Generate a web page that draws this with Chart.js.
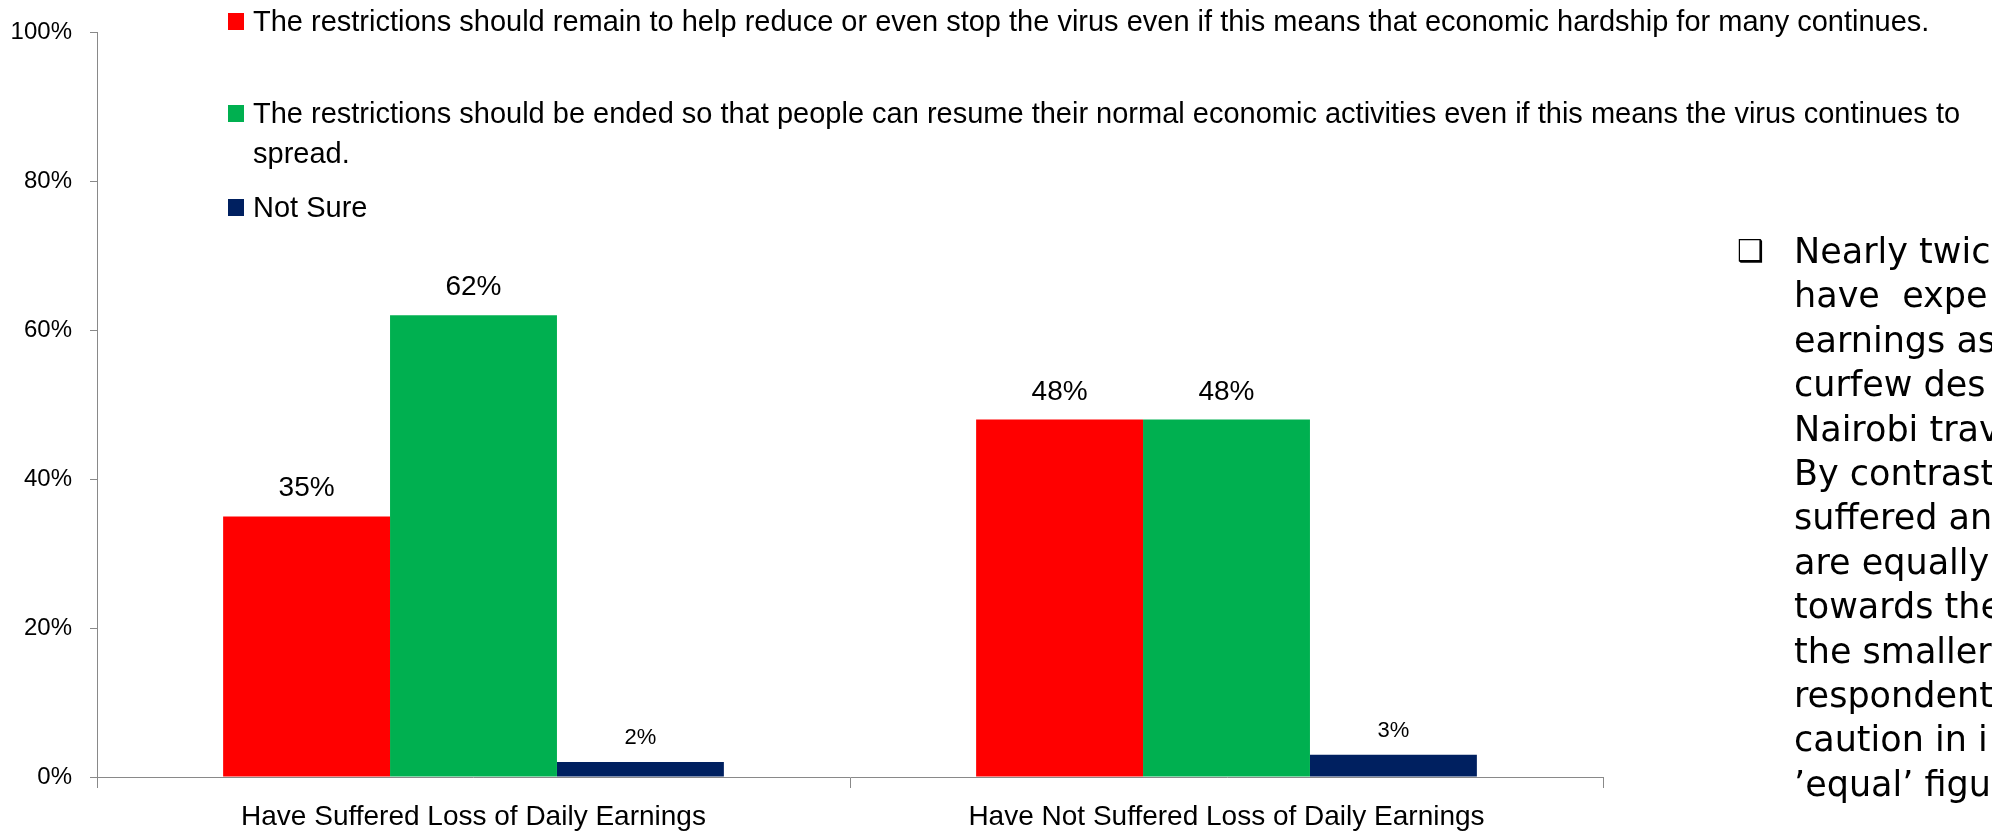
<!DOCTYPE html>
<html>
<head>
<meta charset="utf-8">
<script src="https://cdn.jsdelivr.net/npm/chart.js@4/dist/chart.umd.min.js"></script>
<style>
  body { margin: 0; background: #fff; overflow: hidden; }
  .wrap { position: relative; width: 1992px; height: 834px; overflow: hidden; }
  .chart-box { position: absolute; left: 0; top: 0; width: 1992px; height: 834px; }
  .legend { position: absolute; left: 228px; top: 0; font-family: 'Liberation Sans', Arial, sans-serif; font-size: 29px; line-height: 40px; color: #000; }
  .legend .row { position: absolute; left: 0; white-space: normal; }
  .legend .sw { position: absolute; left: 0; top: 12px; width: 16px; height: 17px; }
  .legend .txt { margin-left: 25px; width: 1740px; }
  .note { position: absolute; left: 1737px; top: 229px; font-family: 'DejaVu Sans', sans-serif; font-size: 35px; line-height: 44.4px; color: #000; }
  .note .bullet { position: absolute; left: 0; top: 0; font-size: 30px; }
  .note .line { margin-left: 57px; white-space: pre; }
</style>
</head>
<body>
<div class="wrap">
  <div class="chart-box"><canvas id="chart"></canvas></div>
  <div class="legend" id="legend"></div>
  <div class="note" id="note"></div>
</div>
<script>
const categories = ['Have Suffered Loss of Daily Earnings', 'Have Not Suffered Loss of Daily Earnings'];
const seriesNames = [
    'The restrictions should remain to help reduce or even stop the virus even if this means that economic hardship for many continues.',
    'The restrictions should be ended so that people can resume their normal economic activities even if this means the virus continues to spread.',
    'Not Sure'
];
const remainValues = [35, 48];
const endedValues = [62, 48];
const notSureValues = [2, 3];
const seriesColors = ['#FF0000', '#00B050', '#002060'];

// visible part of the side note (it runs off the slide edge)
const noteLines = [
    'Nearly twic', 'have  expe', 'earnings as', 'curfew des', 'Nairobi trav',
    'By contrast', 'suffered an', 'are equally', 'towards the', 'the smaller',
    'respondent', 'caution in i', '\u2019equal\u2019 figu'
];

const chartFont = "'Liberation Sans', Arial, sans-serif";

// draw the % above each bar
const valueLabels = {
    id: 'valueLabels',
    afterDatasetsDraw(chart) {
        const c = chart.ctx;
        c.save();
        c.fillStyle = '#000';
        c.textAlign = 'center';
        c.textBaseline = 'alphabetic';
        chart.data.datasets.forEach((ds, i) => {
            chart.getDatasetMeta(i).data.forEach((bar, j) => {
                const v = ds.data[j];
                const small = v < 10;
                c.font = (small ? 22 : 28) + 'px ' + chartFont;
                c.fillText(v + '%', bar.x, bar.y - (small ? 18 : 20));
            });
        });
        c.restore();
    }
};

const ctx = document.getElementById('chart');

new Chart(ctx, {
    type: 'bar',
    data: {
        labels: categories,
        datasets: [
            { label: seriesNames[0], data: remainValues, backgroundColor: seriesColors[0] },
            { label: seriesNames[1], data: endedValues, backgroundColor: seriesColors[1] },
            { label: seriesNames[2], data: notSureValues, backgroundColor: seriesColors[2] }
        ]
    },
    options: {
        responsive: true,
        maintainAspectRatio: false,
        animation: false,
        categoryPercentage: 0.665,
        barPercentage: 1.0,
        layout: { padding: { top: 31, right: 389, bottom: 0, left: 0 } },
        scales: {
            x: {
                grid: { drawOnChartArea: false, tickLength: 11, color: '#898989' },
                border: { color: '#898989' },
                ticks: { color: '#000', font: { family: chartFont, size: 28 }, padding: 12, maxRotation: 0 },
                afterFit(scale) { scale.height = 57; }
            },
            y: {
                min: 0,
                max: 100,
                grid: { drawOnChartArea: false, tickLength: 7, color: '#898989' },
                border: { color: '#898989' },
                ticks: {
                    stepSize: 20,
                    color: '#000',
                    padding: 18,
                    font: { family: chartFont, size: 24 },
                    callback: v => v + '%'
                },
                afterFit(scale) { scale.width = 97; }
            }
        },
        plugins: {
            legend: { display: false },
            tooltip: { enabled: false }
        }
    },
    plugins: [valueLabels]
});

// legend, laid out like the slide
const legendTops = [1, 93, 187];
const legend = document.getElementById('legend');
seriesNames.forEach((name, i) => {
    const row = document.createElement('div');
    row.className = 'row';
    row.style.top = legendTops[i] + 'px';
    row.innerHTML = '<span class="sw" style="background:' + seriesColors[i] + '"></span><div class="txt"></div>';
    row.querySelector('.txt').textContent = name;
    legend.appendChild(row);
});

const note = document.getElementById('note');
note.innerHTML = '<span class="bullet">\u2751</span>';
noteLines.forEach(t => {
    const d = document.createElement('div');
    d.className = 'line';
    d.textContent = t;
    note.appendChild(d);
});
</script>
</body>
</html>
